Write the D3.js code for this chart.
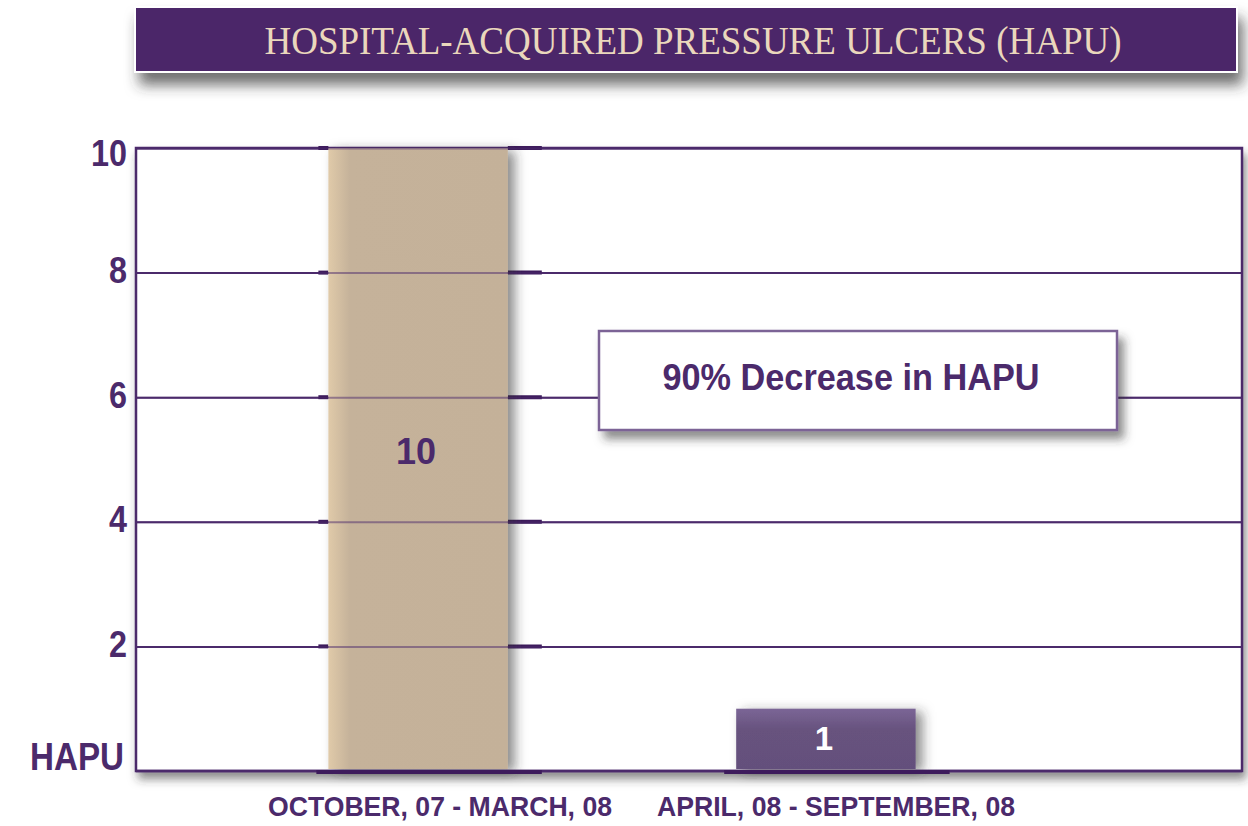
<!DOCTYPE html>
<html>
<head>
<meta charset="utf-8">
<script src="https://cdn.jsdelivr.net/npm/d3@7"></script>
<style>
  body { margin: 0; background: #fff; }
  svg { display: block; }
</style>
</head>
<body>
<div id="chart"></div>
<script>
// chart data
const categories = ["OCTOBER, 07 - MARCH, 08", "APRIL, 08 - SEPTEMBER, 08"];
const hapuCounts = [10, 1];
const yTicks = [2, 4, 6, 8, 10];
const titleText = "HOSPITAL-ACQUIRED PRESSURE ULCERS (HAPU)";
const noteText = "90% Decrease in HAPU";

const W = 1248, H = 826;
const purple = "#4b2a6b";
const dark = "#3d1b5c";
const narrow = "'Liberation Sans Narrow', 'Arial Narrow', 'Liberation Sans', Arial, sans-serif";
const plot = { left: 136, right: 1242, top: 148, bottom: 771 };

const svg = d3.select("#chart").append("svg")
  .attr("width", W).attr("height", H);

const defs = svg.append("defs");
function shadow(id, dx, dy, sd, op) {
  defs.append("filter").attr("id", id)
    .attr("x", "-20%").attr("y", "-20%").attr("width", "150%").attr("height", "170%")
    .append("feDropShadow")
    .attr("dx", dx).attr("dy", dy).attr("stdDeviation", sd)
    .attr("flood-color", "#333").attr("flood-opacity", op);
}
shadow("sh-title", 5, 12, 7, 0.7);
shadow("sh-frame", 3, 7, 5, 0.55);
shadow("sh-bar", 7, 3, 6, 0.55);
shadow("sh-note", 6, 8, 5, 0.55);

const g1 = defs.append("linearGradient").attr("id", "gr-tan")
  .attr("x1", 0).attr("x2", 1).attr("y1", 0).attr("y2", 0);
g1.append("stop").attr("offset", 0).attr("stop-color", "#e0caa9");
g1.append("stop").attr("offset", 0.12).attr("stop-color", "#c5b29a");
g1.append("stop").attr("offset", 1).attr("stop-color", "#c4b199");

const g2 = defs.append("linearGradient").attr("id", "gr-purple")
  .attr("x1", 0).attr("x2", 0).attr("y1", 0).attr("y2", 1);
g2.append("stop").attr("offset", 0).attr("stop-color", "#7b6696");
g2.append("stop").attr("offset", 0.35).attr("stop-color", "#67527e");
g2.append("stop").attr("offset", 1).attr("stop-color", "#64507c");

// title banner
svg.append("rect")
  .attr("x", 135).attr("y", 7).attr("width", 1102).attr("height", 65)
  .attr("fill", "#4b2769").attr("stroke", "#fff").attr("stroke-width", 2)
  .attr("filter", "url(#sh-title)");
svg.append("text")
  .attr("x", 693).attr("y", 54)
  .attr("text-anchor", "middle")
  .attr("textLength", 857).attr("lengthAdjust", "spacingAndGlyphs")
  .style("font-family", "'Liberation Serif', 'Times New Roman', serif")
  .style("font-size", "40px")
  .style("fill", "#ead7bc")
  .text(titleText);

// scales
const y = d3.scaleLinear().domain([0, 10]).range([plot.bottom, plot.top]);
const x = d3.scaleBand().domain(categories).range([100, 1144]).padding(0.56);

// plot frame
svg.append("rect")
  .attr("x", plot.left).attr("y", plot.top)
  .attr("width", plot.right - plot.left).attr("height", plot.bottom - plot.top)
  .attr("fill", "#fff").attr("stroke", purple).attr("stroke-width", 2.5)
  .attr("filter", "url(#sh-frame)");

// gridlines + tick labels
const yAxis = d3.axisLeft(y).tickValues(yTicks)
  .tickSize(-(plot.right - plot.left)).tickPadding(9).tickFormat(d3.format("d"));
const ga = svg.append("g").attr("transform", `translate(${plot.left},0)`).call(yAxis);
ga.select(".domain").remove();
ga.selectAll(".tick line").attr("stroke", purple).attr("stroke-width", 2);
ga.selectAll(".tick text")
  .attr("fill", purple)
  .attr("dy", d => d === 10 ? "0.49em" : "0.28em")
  .attr("textLength", d => String(d).length * 18).attr("lengthAdjust", "spacingAndGlyphs")
  .style("font-family", narrow)
  .style("font-weight", "bold")
  .style("font-size", "36px");

// darker grid segments next to the tall bar (shadow effect)
const b0 = x(categories[0]);
const segs = svg.append("g");
yTicks.forEach(t => {
  segs.append("line")
    .attr("x1", b0 - 10).attr("x2", b0)
    .attr("y1", y(t)).attr("y2", y(t))
    .attr("stroke", dark).attr("stroke-width", 4);
  segs.append("line")
    .attr("x1", b0 + x.bandwidth()).attr("x2", b0 + x.bandwidth() + 34)
    .attr("y1", y(t)).attr("y2", y(t))
    .attr("stroke", dark).attr("stroke-width", 4);
});

// bars
const bars = svg.append("g");
bars.selectAll("rect").data(hapuCounts).join("rect")
  .attr("x", (d, i) => x(categories[i]))
  .attr("y", d => y(d))
  .attr("width", x.bandwidth())
  .attr("height", d => y(0) - y(d) - 2)
  .attr("fill", (d, i) => i === 0 ? "url(#gr-tan)" : "url(#gr-purple)")
  .attr("filter", "url(#sh-bar)");

// gridlines showing through the bars
const gOver = svg.append("g").attr("transform", `translate(${plot.left},0)`)
  .call(d3.axisLeft(y).tickValues(yTicks).tickSize(-(plot.right - plot.left)).tickFormat(""));
gOver.select(".domain").remove();
gOver.selectAll(".tick line").attr("stroke", purple).attr("stroke-width", 2).attr("opacity", 0.5);

// baseline with darker segments under the bars
svg.append("line")
  .attr("x1", plot.left).attr("x2", plot.right)
  .attr("y1", plot.bottom).attr("y2", plot.bottom)
  .attr("stroke", purple).attr("stroke-width", 2.5);
svg.append("g").selectAll("line").data(categories).join("line")
  .attr("x1", d => x(d) - 12).attr("x2", d => x(d) + x.bandwidth() + 34)
  .attr("y1", plot.bottom + 1).attr("y2", plot.bottom + 1)
  .attr("stroke", dark).attr("stroke-width", 4);

// bar value labels
svg.append("g").selectAll("text").data(hapuCounts).join("text")
  .attr("x", (d, i) => x(categories[i]) + x.bandwidth() / 2 - 2)
  .attr("y", (d, i) => i === 0 ? 464 : 750)
  .attr("text-anchor", "middle")
  .attr("fill", (d, i) => i === 0 ? purple : "#fff")
  .style("font-family", "'Liberation Sans', Arial, sans-serif")
  .style("font-weight", "bold")
  .style("font-size", (d, i) => i === 0 ? "36px" : "33px")
  .text(d => d);

// category labels
const catWidths = [344, 358];
const catCenters = [440, 836];
svg.append("g").selectAll("text").data(categories).join("text")
  .attr("x", (d, i) => catCenters[i])
  .attr("y", 816)
  .attr("text-anchor", "middle")
  .attr("textLength", (d, i) => catWidths[i]).attr("lengthAdjust", "spacingAndGlyphs")
  .attr("fill", purple)
  .style("font-family", narrow)
  .style("font-weight", "bold")
  .style("font-size", "28px")
  .text(d => d);

// axis title
svg.append("text")
  .attr("x", 30).attr("y", 770)
  .attr("textLength", 94).attr("lengthAdjust", "spacingAndGlyphs")
  .attr("fill", purple)
  .style("font-family", narrow)
  .style("font-weight", "bold")
  .style("font-size", "38px")
  .text("HAPU");

// annotation box
svg.append("rect")
  .attr("x", 599).attr("y", 331).attr("width", 518).attr("height", 99)
  .attr("fill", "#fff").attr("stroke", "#7b6496").attr("stroke-width", 2.5)
  .attr("filter", "url(#sh-note)");
svg.append("text")
  .attr("x", 851).attr("y", 390)
  .attr("text-anchor", "middle")
  .attr("textLength", 377).attr("lengthAdjust", "spacingAndGlyphs")
  .attr("fill", purple)
  .style("font-family", "'Liberation Sans', Arial, sans-serif")
  .style("font-weight", "bold")
  .style("font-size", "37px")
  .text(noteText);
</script>
</body>
</html>
